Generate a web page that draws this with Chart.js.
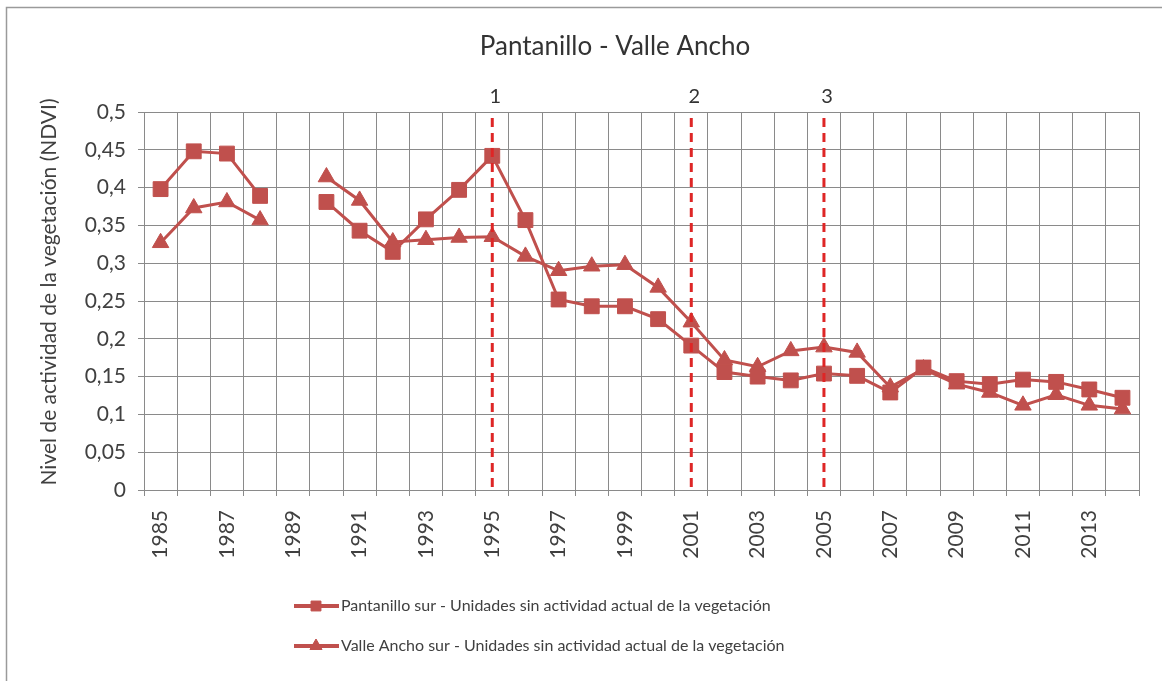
<!DOCTYPE html>
<html>
<head>
<meta charset="utf-8">
<title>Pantanillo - Valle Ancho</title>
<script src="https://cdn.jsdelivr.net/npm/chart.js@4.4.1/dist/chart.umd.min.js"></script>
<style>
  html, body { margin: 0; padding: 0; background: #fff; }
</style>
</head>
<body>
<canvas id="myChart" width="1162" height="681"></canvas>
<script>
'use strict';

//********************* Data *************************/

let years = ['1985', '1986', '1987', '1988', '1989', '1990', '1991', '1992', '1993', '1994',
  '1995', '1996', '1997', '1998', '1999', '2000', '2001', '2002', '2003', '2004',
  '2005', '2006', '2007', '2008', '2009', '2010', '2011', '2012', '2013', '2014'];

// only every other year gets a label on the x axis
let shownYears = ['1985', '1987', '1989', '1991', '1993', '1995', '1997', '1999', '2001',
  '2003', '2005', '2007', '2009', '2011', '2013'];

let pantanilloSur = [0.398, 0.448, 0.445, 0.389, null, 0.381, 0.343, 0.315, 0.358, 0.397,
  0.442, 0.357, 0.252, 0.243, 0.243, 0.226, 0.191, 0.156, 0.150, 0.145,
  0.154, 0.151, 0.129, 0.162, 0.144, 0.140, 0.146, 0.143, 0.133, 0.122];

let valleAnchoSur = [0.327, 0.373, 0.381, 0.357, null, 0.414, 0.383, 0.328, 0.331, 0.334,
  0.335, 0.309, 0.290, 0.296, 0.298, 0.268, 0.222, 0.172, 0.163, 0.184,
  0.189, 0.182, 0.136, 0.160, 0.140, 0.129, 0.112, 0.126, 0.112, 0.107];

let seriesNames = ['Pantanillo sur - Unidades sin actividad actual de la vegetación',
  'Valle Ancho sur - Unidades sin actividad actual de la vegetación'];

let eventYears = ['1995', '2001', '2005'];
let eventLabels = ['1', '2', '3'];

let chartTitle = 'Pantanillo - Valle Ancho';
let yAxisTitle = 'Nivel de actividad de la vegetación (NDVI)';

//********************** Styles ****************************/

let seriesColor = 'rgb(192, 80, 77)';
let gridColor = '#8a8a8a';
let textColor = '#404040';
let fontName = 'Lato';

//********************** Helpers ****************************/

function formatTick(value){
  return Number(value.toFixed(2)).toString().replace('.', ',');
}

//********************** Plugin ****************************/

const extrasPlugin = {
  id: 'extras',
  beforeDraw(chart){
    let ctx = chart.ctx;
    ctx.save();
    ctx.fillStyle = '#ffffff';
    ctx.fillRect(0, 0, chart.width, chart.height);
    ctx.strokeStyle = '#9a9a9a';
    ctx.lineWidth = 1.5;
    ctx.strokeRect(6.5, 7.5, chart.width + 20, chart.height + 20);
    ctx.restore();
  },
  afterDatasetsDraw(chart){
    let ctx = chart.ctx;
    let xScale = chart.scales.x;
    let area = chart.chartArea;
    ctx.save();
    ctx.strokeStyle = 'rgb(222, 38, 38)';
    ctx.lineWidth = 3;
    ctx.setLineDash([9, 6]);
    for(let i = 0; i < eventYears.length; i++){
      let x = xScale.getPixelForValue(years.indexOf(eventYears[i]));
      ctx.beginPath();
      ctx.moveTo(x, area.top + 6);
      ctx.lineTo(x, area.bottom);
      ctx.stroke();
    }
    ctx.restore();
  },
  afterDraw(chart){
    let ctx = chart.ctx;
    let xScale = chart.scales.x;
    let area = chart.chartArea;
    ctx.save();
    ctx.fillStyle = '#333333';
    ctx.textAlign = 'center';
    ctx.textBaseline = 'middle';

    // title
    ctx.font = '26px ' + fontName;
    ctx.fillText(chartTitle, 615, 47);

    // event numbers above the dashed lines
    ctx.font = '20px ' + fontName;
    for(let i = 0; i < eventYears.length; i++){
      let x = xScale.getPixelForValue(years.indexOf(eventYears[i]));
      ctx.fillText(eventLabels[i], x + 3, area.top - 15);
    }

    // y axis title
    ctx.fillStyle = textColor;
    ctx.font = '21px ' + fontName;
    ctx.translate(49, 292);
    ctx.rotate(-Math.PI / 2);
    ctx.fillText(yAxisTitle, 0, 0);
    ctx.restore();

    // legend
    ctx.save();
    let datasets = chart.data.datasets;
    for(let i = 0; i < datasets.length; i++){
      let y = 606 + i * 40;
      ctx.strokeStyle = datasets[i].borderColor;
      ctx.lineWidth = 4;
      ctx.beginPath();
      ctx.moveTo(294, y);
      ctx.lineTo(339, y);
      ctx.stroke();
      ctx.fillStyle = datasets[i].backgroundColor;
      ctx.lineWidth = 1;
      Chart.helpers.drawPoint(ctx, {pointStyle: datasets[i].pointStyle, radius: 7, rotation: 0, borderWidth: 1}, 316, y);
      ctx.fillStyle = textColor;
      ctx.font = '16px ' + fontName;
      ctx.textAlign = 'left';
      ctx.textBaseline = 'middle';
      ctx.fillText(datasets[i].label, 341, y);
    }
    ctx.restore();
  }
};

//********************** Chart ****************************/

const ctx = document.getElementById('myChart').getContext('2d');

const myChart = new Chart(ctx, {
  type: 'line',
  data: {
    labels: years,
    datasets: [{
      label: seriesNames[0],
      data: pantanilloSur,
      borderColor: seriesColor,
      backgroundColor: seriesColor,
      borderWidth: 3,
      pointStyle: 'rect',
      pointRadius: 10.5,
      pointBorderWidth: 1,
      spanGaps: false,
      tension: 0
    },
    {
      label: seriesNames[1],
      data: valleAnchoSur,
      borderColor: seriesColor,
      backgroundColor: seriesColor,
      borderWidth: 3,
      pointStyle: 'triangle',
      pointRadius: 9.5,
      pointBorderWidth: 1,
      spanGaps: false,
      tension: 0
    }]
  },
  options: {
    responsive: false,
    animation: false,
    devicePixelRatio: 1,
    layout: {
      padding: {top: 112, right: 20, left: 0, bottom: 111}
    },
    plugins: {
      legend: {display: false},
      title: {display: false},
      tooltip: {enabled: false}
    },
    scales: {
      x: {
        offset: true,
        grid: {
          offset: true,
          color: gridColor,
          lineWidth: 1,
          drawTicks: true,
          tickLength: 6,
          tickColor: gridColor
        },
        border: {color: gridColor, width: 1},
        ticks: {
          autoSkip: false,
          maxRotation: 90,
          minRotation: 90,
          padding: 14,
          color: textColor,
          font: {family: fontName, size: 21},
          callback: function(value, index){
            return shownYears.includes(years[index]) ? years[index] : '';
          }
        },
        afterFit: function(scale){
          scale.height = 80;
        }
      },
      y: {
        min: 0,
        max: 0.5,
        grid: {
          color: gridColor,
          lineWidth: 1,
          drawTicks: true,
          tickLength: 6,
          tickColor: gridColor
        },
        border: {color: gridColor, width: 1},
        ticks: {
          stepSize: 0.05,
          padding: 12,
          color: textColor,
          font: {family: fontName, size: 21},
          callback: formatTick
        },
        afterFit: function(scale){
          scale.width = 144;
        }
      }
    }
  },
  plugins: [extrasPlugin]
});
</script>
</body>
</html>
